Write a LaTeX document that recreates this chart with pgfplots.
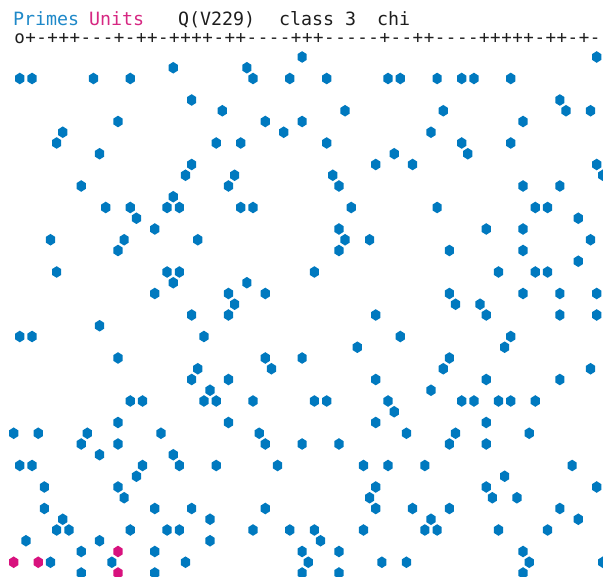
\documentclass[border=0pt]{standalone}
\usepackage{fontspec}
\usepackage{pgfplots}
\pgfplotsset{compat=1.18}
\newfontfamily\monofont{DejaVu Sans Mono}
\definecolor{pblue}{RGB}{0,121,191}
\definecolor{umag}{RGB}{216,18,126}
\definecolor{tblue}{RGB}{30,136,200}
\definecolor{tmag}{RGB}{214,40,130}
\definecolor{tdark}{RGB}{30,30,30}
\pgfdeclareplotmark{hex}{%
  \pgfpathmoveto{\pgfpoint{0pt}{5.8pt}}%
  \pgfpathlineto{\pgfpoint{4.6pt}{2.9pt}}%
  \pgfpathlineto{\pgfpoint{4.6pt}{-2.9pt}}%
  \pgfpathlineto{\pgfpoint{0pt}{-5.8pt}}%
  \pgfpathlineto{\pgfpoint{-4.6pt}{-2.9pt}}%
  \pgfpathlineto{\pgfpoint{-4.6pt}{2.9pt}}%
  \pgfpathclose\pgfusepathqfill}
\newcommand\ch[1]{\makebox[11.07pt][c]{#1}}
\begin{document}
\begin{tikzpicture}
\begin{axis}[at={(0pt,0pt)}, anchor=south west,
  width=603pt, height=577pt, scale only axis, hide axis,
  xmin=-0.228, xmax=98.03, ymin=-5.302, ymax=48.372, y dir=reverse,
  clip=false]
\addplot[only marks, mark=hex, color=pblue] coordinates {
(49,0) (97,0)
(28,1) (40,1)
(3,2) (5,2) (15,2) (21,2) (41,2) (47,2) (53,2) (63,2) (65,2) (71,2) (75,2) (77,2) (83,2)
(31,4) (91,4)
(36,5) (56,5) (72,5) (92,5) (96,5)
(19,6) (43,6) (49,6) (85,6)
(10,7) (46,7) (70,7)
(9,8) (35,8) (39,8) (53,8) (75,8) (83,8)
(16,9) (64,9) (76,9)
(31,10) (61,10) (67,10) (97,10)
(30,11) (38,11) (54,11) (98,11)
(13,12) (37,12) (55,12) (85,12) (91,12)
(28,13)
(17,14) (21,14) (27,14) (29,14) (39,14) (41,14) (57,14) (71,14) (87,14) (89,14)
(22,15) (94,15)
(25,16) (55,16) (79,16) (85,16)
(8,17) (20,17) (32,17) (56,17) (60,17) (96,17)
(19,18) (55,18) (73,18) (85,18)
(94,19)
(9,20) (27,20) (29,20) (51,20) (81,20) (87,20) (89,20)
(28,21) (40,21)
(25,22) (37,22) (43,22) (73,22) (85,22) (91,22) (97,22)
(38,23) (74,23) (78,23)
(31,24) (37,24) (61,24) (79,24) (91,24) (97,24)
(16,25)
(3,26) (5,26) (33,26) (65,26) (83,26)
(58,27) (82,27)
(19,28) (43,28) (49,28) (73,28)
(32,29) (44,29) (72,29) (96,29)
(31,30) (37,30) (61,30) (79,30) (91,30)
(34,31) (70,31)
(21,32) (23,32) (33,32) (35,32) (41,32) (51,32) (53,32) (63,32) (75,32) (77,32) (81,32) (83,32) (87,32)
(64,33)
(19,34) (37,34) (61,34) (79,34)
(2,35) (6,35) (14,35) (26,35) (42,35) (66,35) (74,35) (86,35)
(13,36) (19,36) (43,36) (49,36) (55,36) (73,36) (79,36)
(16,37) (28,37)
(3,38) (5,38) (23,38) (29,38) (35,38) (45,38) (59,38) (63,38) (69,38) (93,38)
(22,39) (82,39)
(7,40) (19,40) (61,40) (79,40) (97,40)
(20,41) (60,41) (80,41) (84,41)
(7,42) (25,42) (31,42) (43,42) (61,42) (67,42) (73,42) (91,42)
(10,43) (34,43) (70,43) (94,43)
(9,44) (11,44) (21,44) (27,44) (29,44) (41,44) (47,44) (51,44) (59,44) (69,44) (71,44) (81,44) (89,44)
(4,45) (16,45) (34,45) (52,45)
(13,46) (25,46) (49,46) (55,46) (85,46)
(8,47) (18,47) (30,47) (50,47) (62,47) (66,47) (86,47) (98,47)
(13,48) (25,48) (49,48) (55,48) (85,48)
};
\addplot[only marks, mark=hex, color=umag] coordinates {
(19,46) (2,47) (6,47) (19,48)
};
\end{axis}
\begin{scope}[every node/.style={inner sep=0pt, outer sep=0pt, font=\monofont\fontsize{18.3}{20}\selectfont}]
\node[anchor=base west, text=tblue] at (13pt,551.5pt) {Primes};
\node[anchor=base west, text=tmag] at (89pt,551.5pt) {Units};
\node[anchor=base west, text=tdark] at (178pt,551.5pt) {Q(V229)};
\node[anchor=base west, text=tdark] at (279pt,551.5pt) {class 3};
\node[anchor=base west, text=tdark] at (377pt,551.5pt) {chi};
\node[anchor=base west, text=tdark, font=\monofont\fontsize{17.5}{20}\selectfont] at (14pt,533pt) {%
\ch{o}\ch{+}\ch{-}\ch{+}\ch{+}\ch{+}\ch{-}\ch{-}\ch{-}\ch{+}\ch{-}\ch{+}\ch{+}\ch{-}\ch{+}\ch{+}\ch{+}\ch{+}\ch{-}\ch{+}\ch{+}\ch{-}\ch{-}\ch{-}\ch{-}\ch{+}\ch{+}\ch{+}\ch{-}\ch{-}\ch{-}\ch{-}\ch{-}\ch{+}\ch{-}\ch{-}\ch{+}\ch{+}\ch{-}\ch{-}\ch{-}\ch{-}\ch{+}\ch{+}\ch{+}\ch{+}\ch{+}\ch{-}\ch{+}\ch{+}\ch{-}\ch{+}\ch{-}};
\end{scope}
\pgfresetboundingbox
\path[use as bounding box] (0pt,0pt) rectangle (603pt,577pt);
\end{tikzpicture}
\end{document}
